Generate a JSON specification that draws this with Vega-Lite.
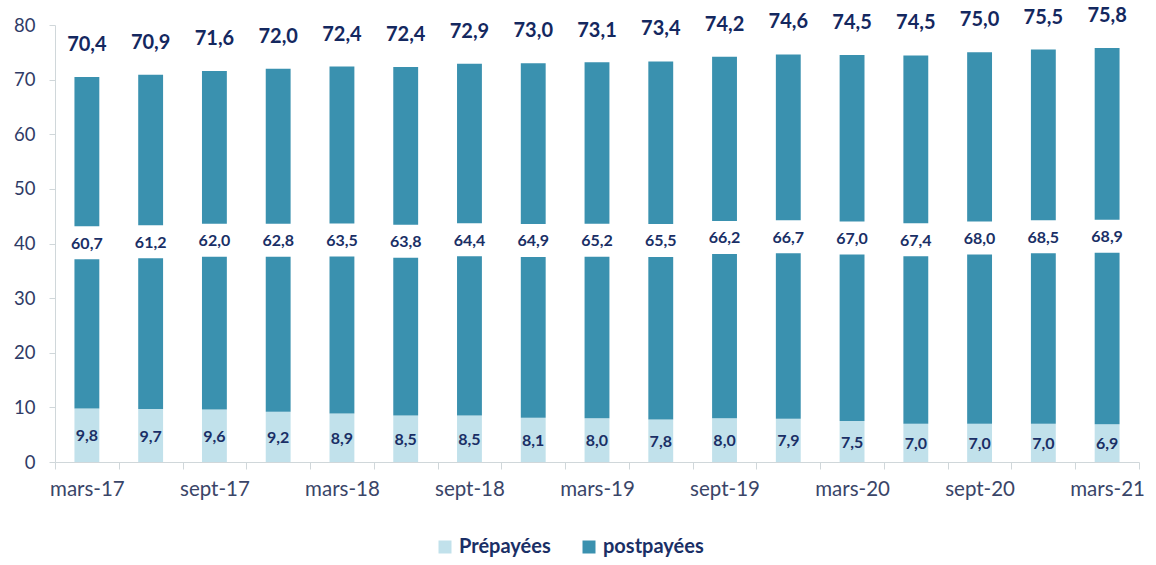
{
  "$schema": "https://vega.github.io/schema/vega-lite/v6.json",
  "width": 1084,
  "height": 437,
  "autosize": {"type": "none"},
  "padding": {"left": 55, "top": 25, "right": 17, "bottom": 103},
  "background": "white",
  "config": {
    "view": {"stroke": null},
    "font": "Lato",
    "locale": {"number": {"decimal": ",", "thousands": " ", "grouping": [3], "currency": ["", " €"]}}
  },
  "data": {
    "values": [
      {"period": "mars-17", "Prépayées": 9.8, "postpayées": 60.7, "total": 70.4},
      {"period": "juin-17", "Prépayées": 9.7, "postpayées": 61.2, "total": 70.9},
      {"period": "sept-17", "Prépayées": 9.6, "postpayées": 62.0, "total": 71.6},
      {"period": "déc-17", "Prépayées": 9.2, "postpayées": 62.8, "total": 72.0},
      {"period": "mars-18", "Prépayées": 8.9, "postpayées": 63.5, "total": 72.4},
      {"period": "juin-18", "Prépayées": 8.5, "postpayées": 63.8, "total": 72.4},
      {"period": "sept-18", "Prépayées": 8.5, "postpayées": 64.4, "total": 72.9},
      {"period": "déc-18", "Prépayées": 8.1, "postpayées": 64.9, "total": 73.0},
      {"period": "mars-19", "Prépayées": 8.0, "postpayées": 65.2, "total": 73.1},
      {"period": "juin-19", "Prépayées": 7.8, "postpayées": 65.5, "total": 73.4},
      {"period": "sept-19", "Prépayées": 8.0, "postpayées": 66.2, "total": 74.2},
      {"period": "déc-19", "Prépayées": 7.9, "postpayées": 66.7, "total": 74.6},
      {"period": "mars-20", "Prépayées": 7.5, "postpayées": 67.0, "total": 74.5},
      {"period": "juin-20", "Prépayées": 7.0, "postpayées": 67.4, "total": 74.5},
      {"period": "sept-20", "Prépayées": 7.0, "postpayées": 68.0, "total": 75.0},
      {"period": "déc-20", "Prépayées": 7.0, "postpayées": 68.5, "total": 75.5},
      {"period": "mars-21", "Prépayées": 6.9, "postpayées": 68.9, "total": 75.8}
    ]
  },
  "encoding": {
    "x": {
      "field": "period",
      "type": "nominal",
      "sort": null,
      "scale": {"paddingInner": 0, "paddingOuter": 0},
      "axis": {
        "title": null,
        "labelAngle": 0,
        "tickBand": "extent",
        "domainColor": "#D0D7DA",
        "tickColor": "#D0D7DA",
        "tickSize": 7,
        "labelPadding": 10,
        "labelFontSize": 20.5,
        "labelColor": "#3A4568",
        "labelOverlap": false,
        "labelExpr": "indexof(datum.label,'mars')===0 || indexof(datum.label,'sept')===0 ? datum.label : ''"
      }
    }
  },
  "layer": [
    {
      "transform": [{"fold": ["Prépayées", "postpayées"], "as": ["type", "value"]}],
      "mark": {"type": "bar", "width": {"band": 0.39}},
      "encoding": {
        "y": {
          "field": "value",
          "type": "quantitative",
          "stack": "zero",
          "scale": {"domain": [0, 80]},
          "axis": {
            "title": null,
            "values": [0, 10, 20, 30, 40, 50, 60, 70, 80],
            "grid": false,
            "domainColor": "#D0D7DA",
            "tickColor": "#D0D7DA",
            "tickSize": 6,
            "labelPadding": 14,
            "labelFontSize": 18.5,
            "labelColor": "#2F3B66"
          }
        },
        "color": {
          "field": "type",
          "type": "nominal",
          "scale": {"domain": ["Prépayées", "postpayées"], "range": ["#C1E1EB", "#3A91AF"]},
          "legend": {
            "title": null,
            "orient": "none",
            "legendX": 380,
            "legendY": 512,
            "direction": "horizontal",
            "symbolType": "square",
            "symbolSize": 169,
            "symbolStrokeWidth": 0,
            "labelFontSize": 20,
            "labelFontWeight": "bold",
            "labelColor": "#1A2F66",
            "columnPadding": 28,
            "labelOffset": 4
          }
        },
        "order": {"field": "type", "sort": "ascending"}
      }
    },
    {
      "transform": [{"fold": ["Prépayées", "postpayées"], "as": ["type", "value"]}],
      "mark": {"type": "point", "shape": "square", "filled": true, "color": "white", "size": 1089, "strokeWidth": 0},
      "encoding": {
        "y": {"field": "value", "type": "quantitative", "stack": "zero", "bandPosition": 0.5},
        "detail": {"field": "type"},
        "order": {"field": "type", "sort": "ascending"},
        "opacity": {"condition": {"test": "datum.type === 'postpayées'", "value": 1}, "value": 0}
      }
    },
    {
      "transform": [{"fold": ["Prépayées", "postpayées"], "as": ["type", "value"]}],
      "mark": {"type": "text", "fontSize": 16, "fontWeight": "bold", "color": "#1A2F66", "baseline": "middle", "dy": 1},
      "encoding": {
        "y": {"field": "value", "type": "quantitative", "stack": "zero", "bandPosition": 0.5},
        "detail": {"field": "type"},
        "order": {"field": "type", "sort": "ascending"},
        "text": {"field": "value", "type": "quantitative", "format": ".1f"}
      }
    },
    {
      "mark": {"type": "text", "fontSize": 20, "fontWeight": "bold", "color": "#14285F", "baseline": "alphabetic", "dy": -26},
      "encoding": {
        "y": {"field": "total", "type": "quantitative"},
        "text": {"field": "total", "type": "quantitative", "format": ".1f"}
      }
    }
  ]
}
